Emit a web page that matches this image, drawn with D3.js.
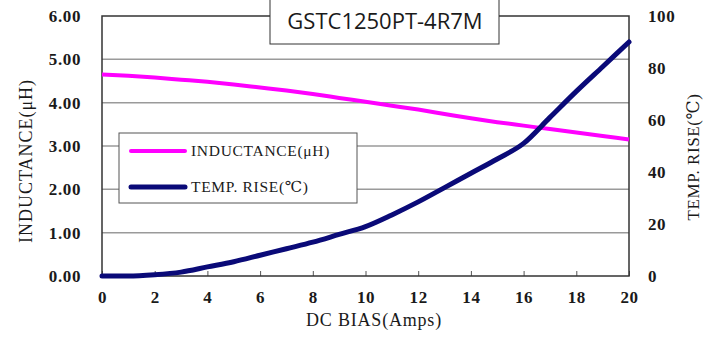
<!DOCTYPE html>
<html>
<head>
<meta charset="utf-8">
<script src="https://cdn.jsdelivr.net/npm/d3@7"></script>
<style>
  body { margin: 0; background: #fff; }
  text { font-family: "Liberation Serif", "DejaVu Serif", serif; fill: #1a1a1a; }
</style>
</head>
<body>
<script>
const width = 716;
const height = 344;
const margin = {top: 16, left: 102, bottom: 68, right: 87};

const current = [0, 1, 2, 3, 4, 5, 6, 7, 8, 9, 10, 11, 12, 13, 14, 15, 16, 17, 18, 19, 20];
const inductance = [4.65, 4.62, 4.58, 4.53, 4.48, 4.42, 4.35, 4.28, 4.20, 4.11, 4.02, 3.93, 3.84, 3.74, 3.64, 3.55, 3.47, 3.39, 3.31, 3.23, 3.15];
const tempRise = [0, 0, 0.5, 1.5, 3.5, 5.5, 8, 10.5, 13, 16, 19, 23.5, 28.5, 34, 39.5, 45, 51, 61, 71, 80.5, 90];
const xTicks = [0, 2, 4, 6, 8, 10, 12, 14, 16, 18, 20];
const leftTicks = [0, 1, 2, 3, 4, 5, 6];
const rightTicks = [0, 20, 40, 60, 80, 100];
const title = 'GSTC1250PT-4R7M';
const seriesNames = ['INDUCTANCE(μH)', 'TEMP. RISE(℃)'];

const x = d3.scaleLinear().domain([0, 20]).range([margin.left, width - margin.right]);
const yL = d3.scaleLinear().domain([0, 6]).range([height - margin.bottom, margin.top]);
const yR = d3.scaleLinear().domain([0, 100]).range([height - margin.bottom, margin.top]);

const svg = d3.select('body').append('svg').attr('width', width).attr('height', height);

const tickStyle = g => g.selectAll('text')
  .attr('font-size', 17).attr('font-weight', 'bold').attr('fill', '#222')
  .attr('letter-spacing', 0.6)
  .style('font-family', '"Liberation Serif", serif');

// gridlines
svg.append('g')
  .selectAll('line').data(leftTicks.slice(1, -1)).enter().append('line')
  .attr('x1', x(0)).attr('x2', x(20))
  .attr('y1', d => yL(d)).attr('y2', d => yL(d))
  .attr('stroke', '#9a9a9a').attr('stroke-width', 1.5);

// x axis with inward ticks
svg.append('g')
  .attr('transform', `translate(0, ${height - margin.bottom})`)
  .call(d3.axisBottom(x).tickValues(xTicks).tickSize(-5).tickSizeOuter(0).tickPadding(15))
  .call(g => g.select('.domain').remove())
  .call(g => g.selectAll('line').attr('stroke', '#555'))
  .call(tickStyle);

svg.append('g')
  .attr('transform', `translate(${margin.left}, 0)`)
  .call(d3.axisLeft(yL).tickValues(leftTicks).tickFormat(d3.format('.2f')).tickSize(0).tickPadding(21))
  .call(g => g.select('.domain').remove())
  .call(tickStyle);

svg.append('g')
  .attr('transform', `translate(${width - margin.right}, 0)`)
  .call(d3.axisRight(yR).tickValues(rightTicks).tickSize(0).tickPadding(19))
  .call(g => g.select('.domain').remove())
  .call(tickStyle);

// frame
svg.append('rect')
  .attr('x', x(0)).attr('y', yL(6))
  .attr('width', x(20) - x(0)).attr('height', yL(0) - yL(6))
  .attr('fill', 'none').attr('stroke', '#333').attr('stroke-width', 1.5);

// lines
const lineL = d3.line().x((d, i) => x(current[i])).y(d => yL(d)).curve(d3.curveMonotoneX);
const lineR = d3.line().x((d, i) => x(current[i])).y(d => yR(d)).curve(d3.curveMonotoneX);

svg.append('path').datum(inductance)
  .attr('d', lineL).attr('fill', 'none')
  .attr('stroke', '#ff00ff').attr('stroke-width', 4);

svg.append('path').datum(tempRise)
  .attr('d', lineR).attr('fill', 'none')
  .attr('stroke', '#0a0a78').attr('stroke-width', 5).attr('stroke-linecap', 'round');

// legend
const legend = svg.append('g');
legend.append('rect')
  .attr('x', 119).attr('y', 133).attr('width', 238).attr('height', 70)
  .attr('fill', '#fff').attr('stroke', '#555').attr('stroke-width', 1);
const legendColors = ['#ff00ff', '#0a0a78'];
const legendY = [151, 187];
seriesNames.forEach((name, i) => {
  legend.append('line')
    .attr('x1', 131).attr('x2', 185).attr('y1', legendY[i]).attr('y2', legendY[i])
    .attr('stroke', legendColors[i]).attr('stroke-width', i ? 5 : 4).attr('stroke-linecap', 'round');
  legend.append('text')
    .attr('x', 191).attr('y', legendY[i] + 5)
    .attr('font-size', 15.5).attr('letter-spacing', 0.7)
    .text(name);
});

// axis titles
svg.append('text')
  .attr('x', 374).attr('y', 326)
  .attr('text-anchor', 'middle').attr('font-size', 18).attr('letter-spacing', 0.8)
  .text('DC BIAS(Amps)');

svg.append('text')
  .attr('transform', `translate(32, 161) rotate(-90)`)
  .attr('text-anchor', 'middle').attr('font-size', 18).attr('letter-spacing', 1)
  .text(seriesNames[0]);

svg.append('text')
  .attr('transform', `translate(699, 157) rotate(-90)`)
  .attr('text-anchor', 'middle').attr('font-size', 17).attr('letter-spacing', 0.6)
  .text(seriesNames[1]);

// title box
svg.append('rect')
  .attr('x', 270).attr('y', -1).attr('width', 229).attr('height', 45)
  .attr('fill', '#fff').attr('stroke', '#333').attr('stroke-width', 1);
svg.append('text')
  .attr('x', 385).attr('y', 29)
  .attr('text-anchor', 'middle').attr('font-size', 22)
  .style('font-family', '"Open Sans", "Noto Sans", sans-serif')
  .attr('fill', '#000')
  .text(title);
</script>
</body>
</html>
